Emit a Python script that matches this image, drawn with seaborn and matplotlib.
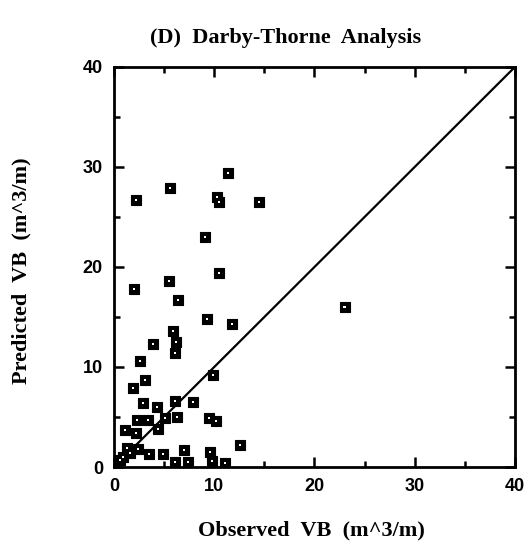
import numpy as np
import pandas as pd
import seaborn as sns
import matplotlib.pyplot as plt

# observed vs predicted VB (m^3/m)
observed = [11.4, 5.6, 2.2, 10.3, 10.5, 14.5, 9.1, 10.5, 5.5, 2.0, 6.4,
            9.3, 11.8, 5.9, 3.9, 6.2, 6.1, 2.6, 9.9, 3.1, 1.9,
            2.9, 6.1, 7.9, 4.3, 2.3, 3.4, 5.1, 6.3, 9.5, 10.2,
            1.1, 2.2, 4.4, 1.3, 2.4, 1.6, 0.9, 0.6,
            3.5, 4.9, 7.0, 9.6, 12.6, 6.1, 7.4, 9.8, 11.1, 23.0]
predicted = [29.4, 27.9, 26.7, 27.0, 26.5, 26.5, 23.0, 19.4, 18.6, 17.8, 16.7,
             14.8, 14.3, 13.6, 12.3, 12.5, 11.4, 10.6, 9.2, 8.7, 7.9,
             6.4, 6.6, 6.5, 6.0, 4.7, 4.7, 4.9, 5.0, 4.9, 4.6,
             3.7, 3.4, 3.8, 1.9, 1.8, 1.4, 1.0, 0.7,
             1.3, 1.3, 1.7, 1.5, 2.2, 0.5, 0.5, 0.6, 0.4, 16.0]

df = pd.DataFrame({"observed": observed, "predicted": predicted})

sns.set_style("ticks")
plt.rcParams["font.family"] = ["Liberation Sans", "DejaVu Sans"]
plt.rcParams["text.color"] = "black"
plt.rcParams["xtick.color"] = "black"
plt.rcParams["ytick.color"] = "black"
plt.rcParams["axes.edgecolor"] = "black"

fig = plt.figure(figsize=(5.29, 5.53), dpi=100)
ax = fig.add_axes([0.2155, 0.1555, 0.758, 0.7235])

# 1:1 line
ax.plot([0, 40], [0, 40], color="black", linewidth=1.6, zorder=1)

# boxed markers: black square with small white centre
sns.scatterplot(data=df, x="observed", y="predicted", marker="s", s=45,
                color="black", edgecolor="black", linewidth=0.8, ax=ax, zorder=3)
sns.scatterplot(data=df, x="observed", y="predicted", marker="s", s=2.5,
                color="white", edgecolor="none", linewidth=0, ax=ax, zorder=4)

ax.set_xlim(0, 40)
ax.set_ylim(0, 40)
ax.set_xticks([0, 10, 20, 30, 40])
ax.set_yticks([0, 10, 20, 30, 40])
ax.set_xticks([5, 15, 25, 35], minor=True)
ax.set_yticks([5, 15, 25, 35], minor=True)
ax.tick_params(which="both", direction="in", top=True, right=True, width=1.8,
               colors="black")
ax.tick_params(which="major", length=7, labelsize=13, pad=8)
ax.tick_params(which="minor", length=4)
for lab in ax.get_xticklabels() + ax.get_yticklabels():
    lab.set_fontweight("bold")
for sp in ax.spines.values():
    sp.set_linewidth(2)
ax.set_xlabel("")
ax.set_ylabel("")

serif = ["Liberation Serif", "DejaVu Serif"]
fig.text(0.54, 0.931, "(D)  Darby-Thorne  Analysis", ha="center", va="center",
         fontsize=16, fontweight="bold", family=serif, color="black")
fig.text(0.588, 0.041, "Observed  VB  (m^3/m)", ha="center", va="center",
         fontsize=16, fontweight="bold", family=serif, color="black")
fig.text(0.04, 0.51, "Predicted  VB  (m^3/m)", ha="center", va="center",
         rotation=90, fontsize=16, fontweight="bold", family=serif, color="black")

fig.savefig("out.png", dpi=100)
